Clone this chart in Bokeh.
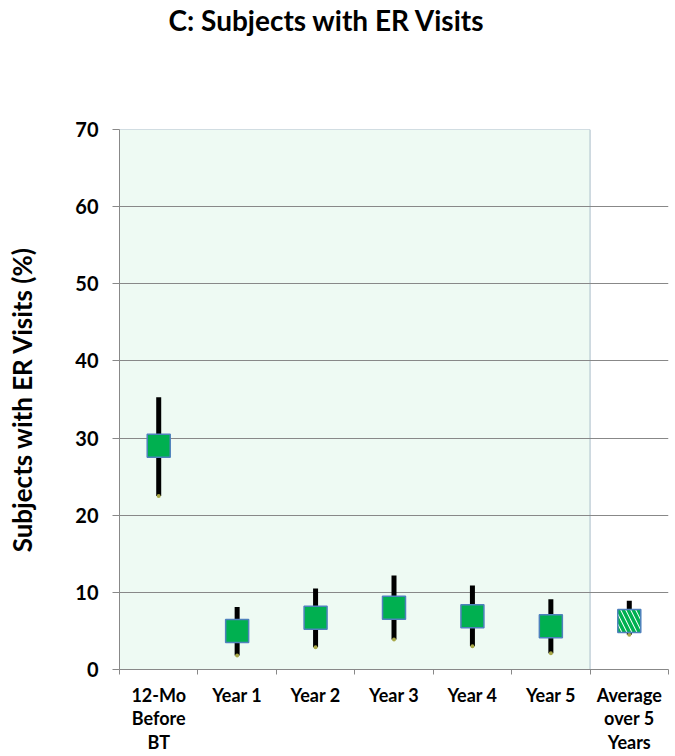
from bokeh.plotting import figure
from bokeh.models import FixedTicker, Range1d, Title
from bokeh.embed import file_html
from bokeh.resources import INLINE

categories = ["12-Mo\nBefore\nBT", "Year 1", "Year 2", "Year 3", "Year 4", "Year 5", "Average\nover 5\nYears"]
means = [29.0, 5.0, 6.7, 8.0, 6.9, 5.6, 6.3]
upper = [35.3, 8.1, 10.5, 12.2, 10.9, 9.1, 8.9]
lower = [22.5, 1.8, 2.9, 3.9, 3.0, 2.1, 4.5]
y_ticks = [0, 10, 20, 30, 40, 50, 60, 70]

FONT = "Lato"
xs = [i + 0.5 for i in range(len(categories))]

p = figure(width=669, height=756, output_backend="svg", toolbar_location=None, title=None,
           x_range=Range1d(0, 7), y_range=Range1d(0, 70),
           min_border_left=119, min_border_right=1, min_border_top=128, min_border_bottom=87)
p.outline_line_color = None
p.background_fill_color = "white"

# spacer between plot area and title, then the title itself
p.add_layout(Title(text=" ", text_font_size="10px", standoff=80), "above")
p.add_layout(Title(text="C: Subjects with ER Visits", align="left", offset=49, standoff=0,
                   text_font=FONT, text_font_size="28px", text_font_style="bold",
                   text_color="black"), "above")

# shaded region for the 6 time periods
p.quad(left=[0], right=[6], bottom=[0], top=[70], fill_color="#eefaf3",
       line_color="#a8bcc8", line_width=1, level="underlay")

p.xgrid.visible = False
p.ygrid.ticker = FixedTicker(ticks=y_ticks)
p.ygrid.grid_line_color = "#888888"
p.ygrid.level = "underlay"

# error bars
p.segment(x0=xs, x1=xs, y0=lower, y1=upper, line_color="black", line_width=5)
p.scatter(x=xs, y=lower, size=4, marker="circle", fill_color="#a8a848", line_color=None)

# markers
p.scatter(x=xs[:6], y=means[:6], marker="square", size=23,
          fill_color="#00b050", line_color="#4f81bd", line_width=1.5)
p.scatter(x=xs[6:], y=means[6:], marker="square", size=23,
          fill_color="white", line_color="#4f81bd", line_width=1.5,
          hatch_pattern="\\", hatch_color="#00b050", hatch_scale=10, hatch_weight=3.5)

# axes
p.yaxis.ticker = FixedTicker(ticks=y_ticks)
p.yaxis.axis_label = "Subjects with ER Visits (%)"
p.yaxis.axis_label_text_font = FONT
p.yaxis.axis_label_text_font_size = "26px"
p.yaxis.axis_label_text_font_style = "bold"
p.yaxis.axis_label_text_color = "black"
p.yaxis.axis_label_standoff = 34
p.yaxis.major_label_text_font = FONT
p.yaxis.major_label_text_font_size = "20px"
p.yaxis.major_label_text_font_style = "bold"
p.yaxis.major_label_text_color = "black"
p.yaxis.axis_line_color = "#888888"
p.yaxis.major_tick_line_color = "#888888"
p.yaxis.major_tick_out = 7
p.yaxis.major_tick_in = 0
p.yaxis.minor_tick_line_color = None
p.yaxis.major_label_standoff = 14

p.xaxis.ticker = FixedTicker(ticks=xs, minor_ticks=list(range(len(categories) + 1)))
p.xaxis.major_label_overrides = {x: c for x, c in zip(xs, categories)}
p.xaxis.major_label_text_font = FONT
p.xaxis.major_label_text_font_size = "18px"
p.xaxis.major_label_text_font_style = "bold"
p.xaxis.major_label_text_color = "black"
p.xaxis.major_label_text_line_height = 1.08
p.xaxis.axis_line_color = "#888888"
p.xaxis.major_tick_line_color = None
p.xaxis.major_tick_out = 0
p.xaxis.major_tick_in = 0
p.xaxis.minor_tick_line_color = "#888888"
p.xaxis.minor_tick_out = 5
p.xaxis.minor_tick_in = 0
p.xaxis.major_label_standoff = 9

open("out.html", "w").write(file_html(p, INLINE))
